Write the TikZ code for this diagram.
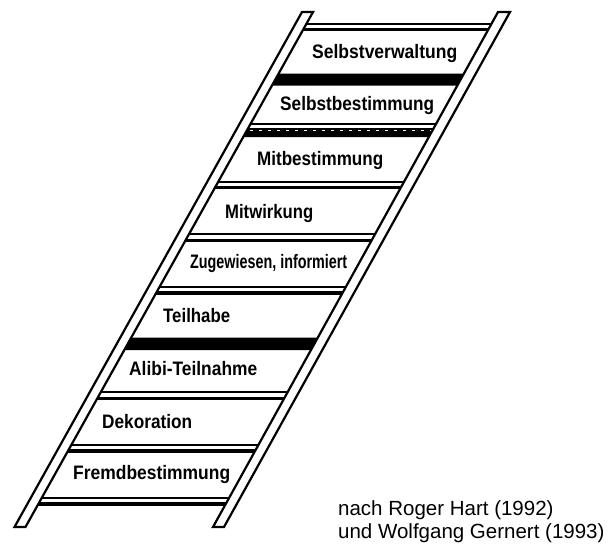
\documentclass[tikz,border=0pt]{standalone}
\usepackage{fontspec}
\setmainfont{Liberation Sans}
\usepackage{graphicx}
\begin{document}
\begin{tikzpicture}[x=1pt,y=-1pt,
  railbox/.style={draw=black,line width=2.2pt,fill=white,line join=miter},
  rungtop/.style={line width=2pt},
  rungbot/.style={line width=3.4pt},
  lbl/.style={anchor=base west,inner sep=0pt,font=\fontsize{19.5}{22}\selectfont\bfseries},
  captext/.style={anchor=base west,inner sep=0pt,font=\fontsize{20.5}{23}\selectfont}]
\useasboundingbox (0,0) rectangle (614,544);
\def\XL#1{307.5-(#1-12)*0.5583}
\def\XR#1{504-(#1-12)*0.5544}
% ordinary rungs
\foreach \c in {27,185.1,237.8,290.5,395.9,448.6,501.3} {
  \pgfmathsetmacro\xl{\XL{\c}}
  \pgfmathsetmacro\xr{\XR{\c}}
  \draw[rungtop] (\xl,\c-3.5) -- (\xr,\c-3.5);
  \draw[rungbot] (\xl,\c+2.5) -- (\xr,\c+2.5);
}
% black rungs
\foreach \a/\b in {73.5/85.5,337.5/350} {
  \pgfmathsetmacro\xla{\XL{\a}}
  \pgfmathsetmacro\xra{\XR{\a}}
  \pgfmathsetmacro\xlb{\XL{\b}}
  \pgfmathsetmacro\xrb{\XR{\b}}
  \fill (\xla,\a) -- (\xra,\a) -- (\xrb,\b) -- (\xlb,\b) -- cycle;
}
% dashed rung
\pgfmathsetmacro\xla{\XL{124}}
\pgfmathsetmacro\xra{\XR{124}}
\draw[line width=2pt] (\xla,124) -- (\xra,124);
\pgfmathsetmacro\xla{\XL{128}}
\pgfmathsetmacro\xra{\XR{128}}
\pgfmathsetmacro\xlb{\XL{137}}
\pgfmathsetmacro\xrb{\XR{137}}
\fill (\xla,128) -- (\xra,128) -- (\xrb,137) -- (\xlb,137) -- cycle;
\pgfmathsetmacro\xla{\XL{130.5}}
\pgfmathsetmacro\xra{\XR{130.5}}
\draw[white,line width=1.6pt,dash pattern=on 3pt off 6pt] (\xla,130.5) -- (\xra,130.5);
% rails
\draw[railbox] (302,12) -- (313,12) -- (25.5,527) -- (14.5,527) -- cycle;
\draw[railbox] (498,12) -- (510,12) -- (224,527) -- (213,527) -- cycle;
% labels
\node[lbl] (l1) at (312,58)  {\resizebox{145pt}{\height}{Selbstverwaltung}};
\node[lbl] (l2) at (280,110) {\resizebox{154pt}{\height}{Selbstbestimmung}};
\node[lbl] (l3) at (257,165) {\resizebox{126pt}{\height}{Mitbestimmung}};
\node[lbl] (l4) at (225,218) {\resizebox{88pt}{\height}{Mitwirkung}};
\node[lbl] (l5) at (190,268) {\resizebox{157pt}{\height}{Zugewiesen, informiert}};
\node[lbl] (l6) at (163,322) {\resizebox{67pt}{\height}{Teilhabe}};
\node[lbl] (l7) at (129,375) {\resizebox{128pt}{\height}{Alibi-Teilnahme}};
\node[lbl] (l8) at (102,428) {\resizebox{90pt}{\height}{Dekoration}};
\node[lbl] (l9) at (73,479)  {\resizebox{157pt}{\height}{Fremdbestimmung}};
% caption
\node[captext] (c1) at (338,515) {nach Roger Hart (1992)};
\node[captext] (c2) at (338,538) {und Wolfgang Gernert (1993)};
\end{tikzpicture}
\end{document}
